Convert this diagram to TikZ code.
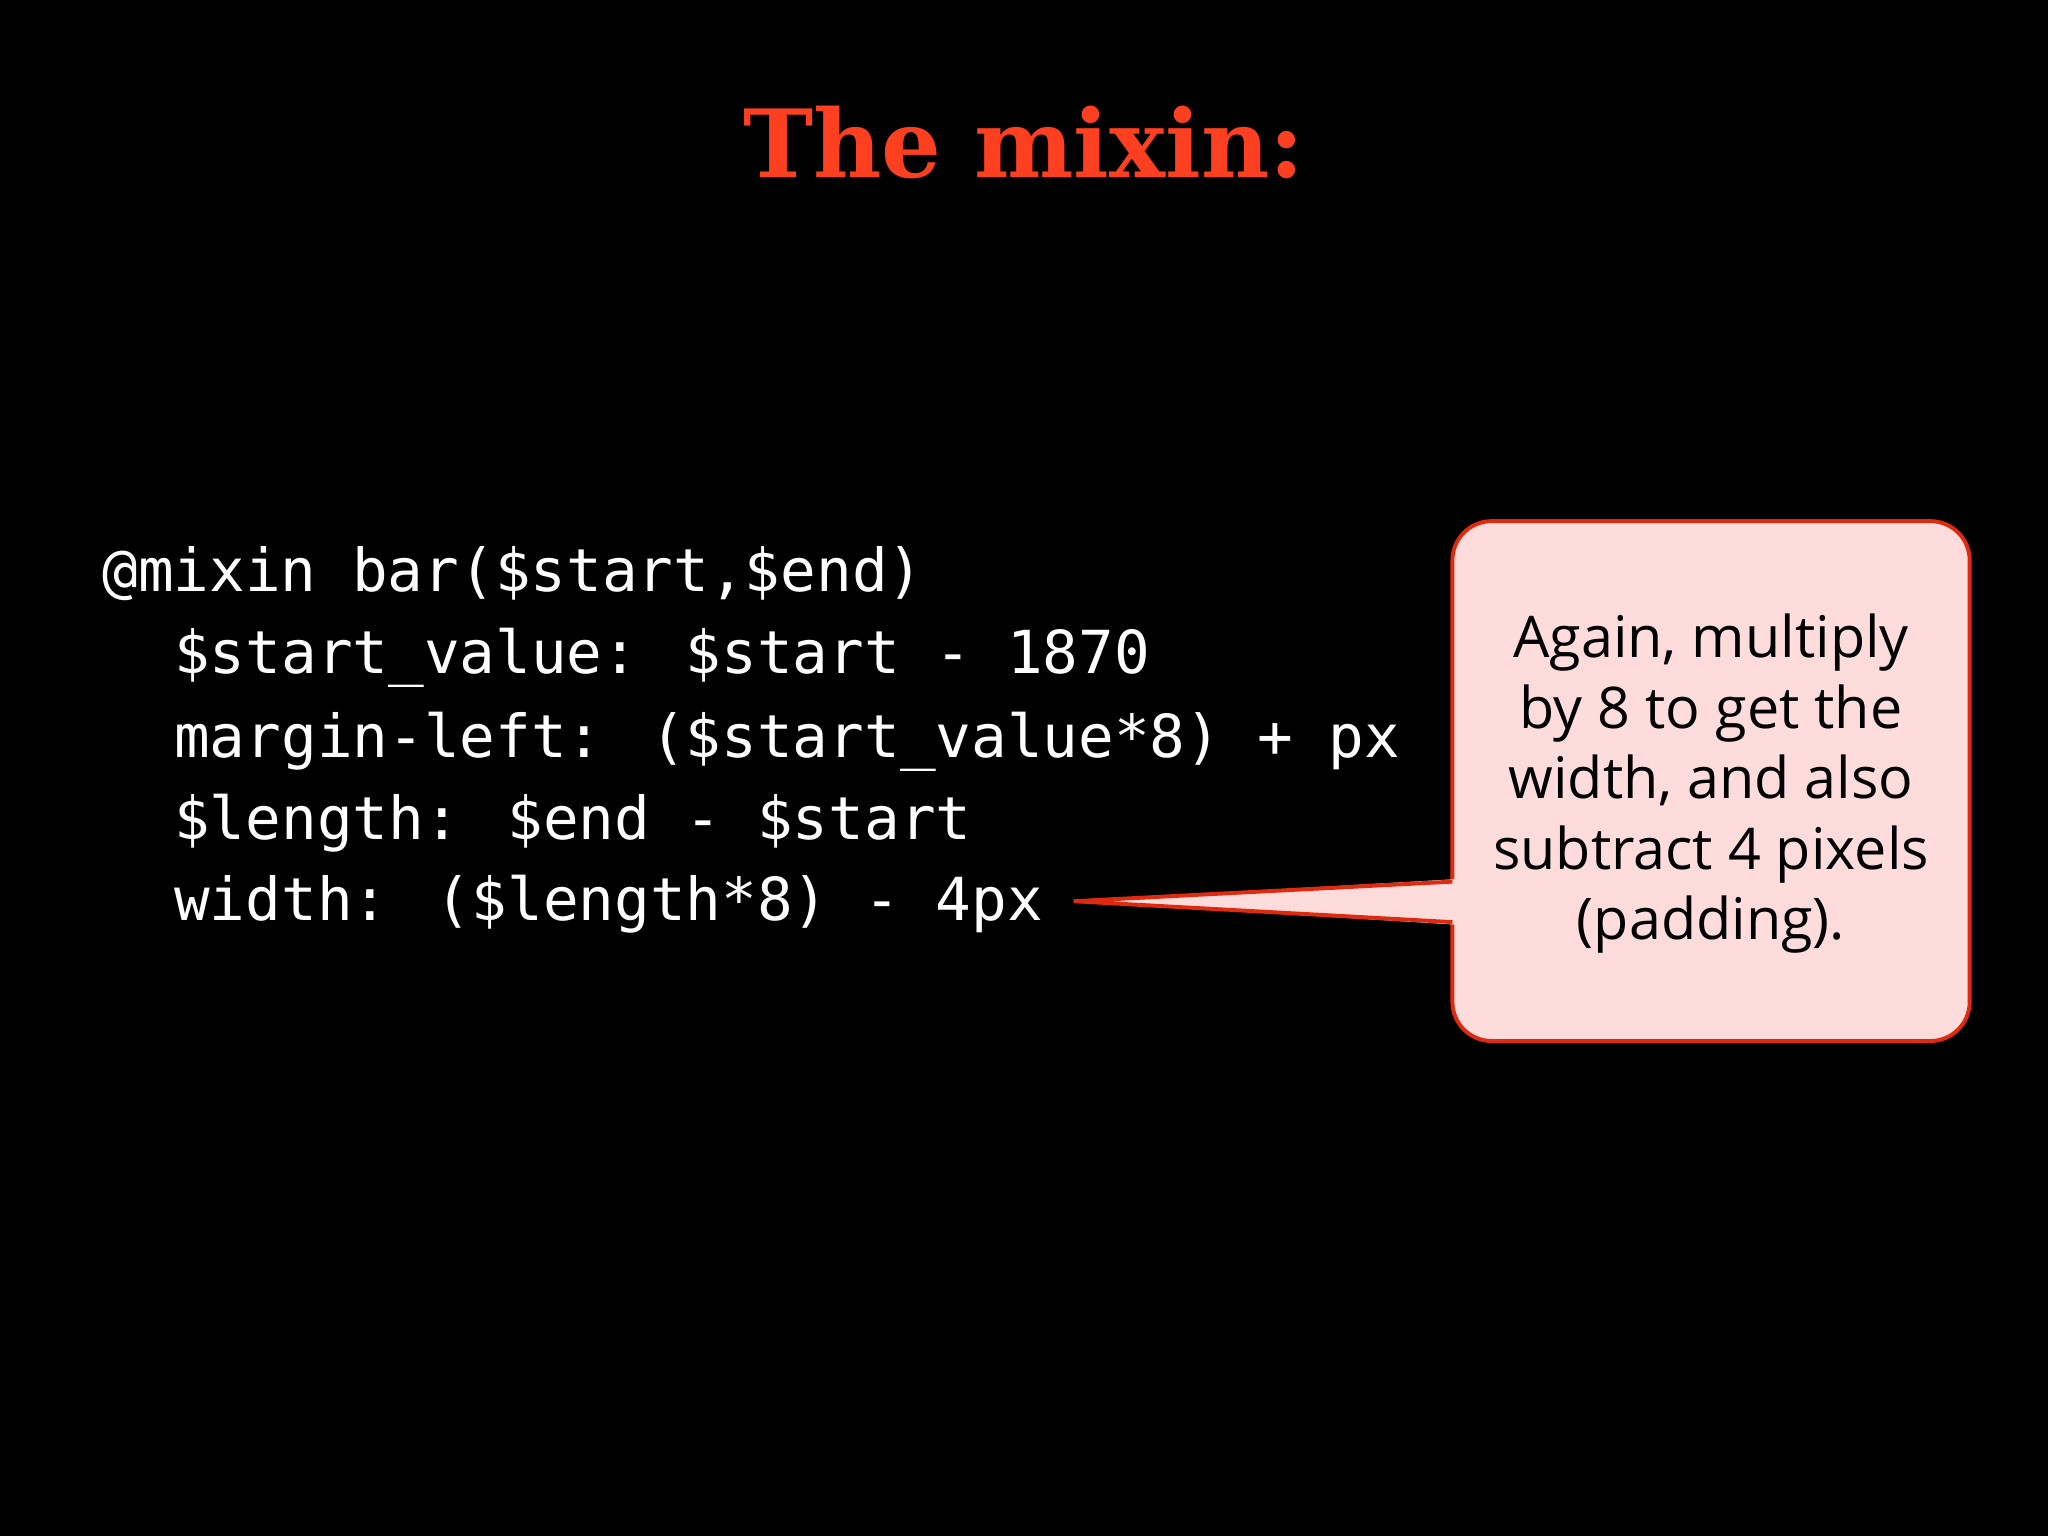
\documentclass[tikz,border=0pt]{standalone}
\usepackage{fontspec}
\setmainfont{DejaVu Serif}
\newfontfamily\codefont{DejaVu Sans Mono}
\newfontfamily\callfont{Open Sans}
\definecolor{titlered}{HTML}{FF4020}
\definecolor{callpink}{HTML}{FFDCDC}
\definecolor{callred}{HTML}{E02A10}
\begin{document}
\begin{tikzpicture}[x=0.5pt,y=-0.5pt,
  codeline/.style={anchor=base west,inner sep=0,text=white,font=\codefont\fontsize{22.7}{26}\selectfont},
  callbox/.style={draw=callred,line width=1.5pt,fill=callpink,rounded corners=15pt}]
\fill[black] (0,0) rectangle (1568,1176);
\useasboundingbox (0,0) rectangle (1568,1176);
\node[text=titlered,font=\bfseries\fontsize{36}{40}\selectfont,anchor=base] (title) at (784,136) {The mixin:};
\node[codeline] (l1) at (78,453) {@mixin bar(\$start,\$end)};
\node[codeline] (l2) at (133,516) {\$start\_value: \$start - 1870};
\node[codeline] (l3) at (133,580) {margin-left: (\$start\_value*8) + px};
\node[codeline] (l4) at (133,643) {\$length: \$end - \$start};
\node[codeline] (l5) at (133,705) {width: (\$length*8) - 4px};
\draw[callbox] (1112,399) rectangle (1508,797);
\coordinate (tip) at (822,690);
\coordinate (a1) at (1112,675);
\coordinate (a2) at (1112,706);
\fill[callpink] (1116,673) -- (tip) -- (1116,708) -- cycle;
\draw[callred,line width=1.5pt,line join=miter] (a1) -- (tip) -- (a2);
\node[align=center,font=\callfont\fontsize{22}{27}\selectfont,text=black] (ctext) at (1310,600)
 {Again, multiply\\by 8 to get the\\width, and also\\subtract 4 pixels\\(padding).};
\end{tikzpicture}
\end{document}
